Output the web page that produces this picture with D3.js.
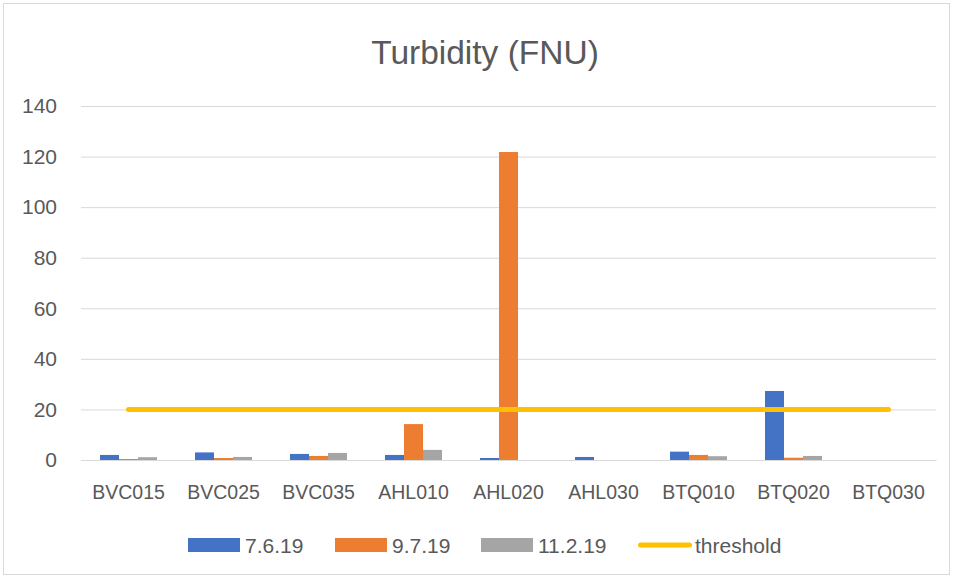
<!DOCTYPE html>
<meta charset="utf-8">
<script src="https://cdn.jsdelivr.net/npm/d3@7"></script>
<style>
  body { margin: 0; background: #fff; }
  text { font-family: "Liberation Sans", sans-serif; fill: #595959; }
</style>
<div id="my_dataviz"></div>
<script>

// data
var sites = ["BVC015", "BVC025", "BVC035", "AHL010", "AHL020", "AHL030", "BTQ010", "BTQ020", "BTQ030"];
var series = ["7.6.19", "9.7.19", "11.2.19"];
var v_0706 = [2.0, 3.0, 2.4, 2.0, 0.8, 1.2, 3.3, 27.3, 0];
var v_0907 = [0.4, 0.8, 1.6, 14.2, 121.8, 0, 2.0, 0.9, 0];
var v_1102 = [1.1, 1.2, 2.8, 4.0, 0, 0, 1.5, 1.6, 0];
var threshold = [20, 20, 20, 20, 20, 20, 20, 20, 20];
var yTicks = [0, 20, 40, 60, 80, 100, 120, 140];
var colors = ["#4472C4", "#ED7D31", "#A5A5A5"];
var lineColor = "#FFC000";

var W = 953, H = 578;
var margin = {top: 106, right: 17, bottom: 118, left: 81},
  width = W - margin.left - margin.right,
  height = H - margin.top - margin.bottom;

var root = d3.select("#my_dataviz")
  .append("svg")
    .attr("width", W)
    .attr("height", H);

// chart border
root.append("rect")
  .attr("x", 3.5).attr("y", 3.5)
  .attr("width", W - 7).attr("height", H - 7)
  .attr("fill", "none")
  .attr("stroke", "#d9d9d9");

root.append("text")
  .attr("x", 485).attr("y", 64)
  .attr("text-anchor", "middle")
  .attr("font-size", 33.5)
  .text("Turbidity (FNU)");

var svg = root.append("g")
  .attr("transform", "translate(" + margin.left + "," + margin.top + ")");

var x = d3.scaleBand()
  .domain(sites)
  .range([0, width]);

var xInner = d3.scaleBand()
  .domain(series)
  .range([0, x.bandwidth()])
  .paddingOuter(1)
  .paddingInner(0);

var y = d3.scaleLinear()
  .domain([0, 140])
  .range([height, 0]);

// gridlines
svg.append("g")
  .call(d3.axisLeft(y).tickValues(yTicks).tickSize(-width).tickPadding(24))
  .call(function(g) {
    g.select(".domain").remove();
    g.selectAll(".tick line").attr("stroke", "#d9d9d9");
    g.selectAll(".tick text").attr("font-size", 21).attr("fill", "#595959")
      .attr("font-family", "Liberation Sans, sans-serif");
  });

// x axis
svg.append("g")
  .attr("transform", "translate(0," + height + ")")
  .call(d3.axisBottom(x).tickSize(0).tickPadding(25))
  .call(function(g) {
    g.select(".domain").attr("stroke", "#d9d9d9");
    g.selectAll(".tick text").attr("font-size", 19.5).attr("fill", "#595959")
      .attr("font-family", "Liberation Sans, sans-serif");
  });

// bars
var allVals = [v_0706, v_0907, v_1102];
var rows = [];
sites.forEach(function(s, i) {
  series.forEach(function(k, j) {
    rows.push({site: s, key: k, value: allVals[j][i], color: colors[j]});
  });
});

svg.selectAll("bars")
  .data(rows)
  .enter()
  .append("rect")
    .attr("x", function(d) { return x(d.site) + xInner(d.key); })
    .attr("width", xInner.bandwidth())
    .attr("y", function(d) { return y(d.value); })
    .attr("height", function(d) { return y(0) - y(d.value); })
    .attr("fill", function(d) { return d.color; });

// threshold line
var line = d3.line()
  .x(function(d, i) { return x(sites[i]) + x.bandwidth() / 2; })
  .y(function(d) { return y(d); });

svg.append("path")
  .datum(threshold)
  .attr("d", line)
  .attr("fill", "none")
  .attr("stroke", lineColor)
  .attr("stroke-width", 5)
  .attr("stroke-linecap", "round");

// legend
var legendItems = [
  {label: "7.6.19", color: colors[0], type: "rect", x: 188},
  {label: "9.7.19", color: colors[1], type: "rect", x: 335},
  {label: "11.2.19", color: colors[2], type: "rect", x: 481},
  {label: "threshold", color: lineColor, type: "line", x: 638}
];
var legend = root.selectAll("legend")
  .data(legendItems)
  .enter()
  .append("g")
    .attr("transform", function(d) { return "translate(" + d.x + ",545)"; });

legend.filter(function(d) { return d.type == "rect"; })
  .append("rect")
    .attr("x", 0).attr("y", -7)
    .attr("width", 52).attr("height", 14)
    .attr("fill", function(d) { return d.color; });

legend.filter(function(d) { return d.type == "line"; })
  .append("line")
    .attr("x1", 2.5).attr("x2", 51.5)
    .attr("y1", 0).attr("y2", 0)
    .attr("stroke", function(d) { return d.color; })
    .attr("stroke-width", 5)
    .attr("stroke-linecap", "round");

legend.append("text")
  .attr("x", 57).attr("y", 0)
  .attr("dy", "0.36em")
  .attr("font-size", 21)
  .text(function(d) { return d.label; });

</script>
